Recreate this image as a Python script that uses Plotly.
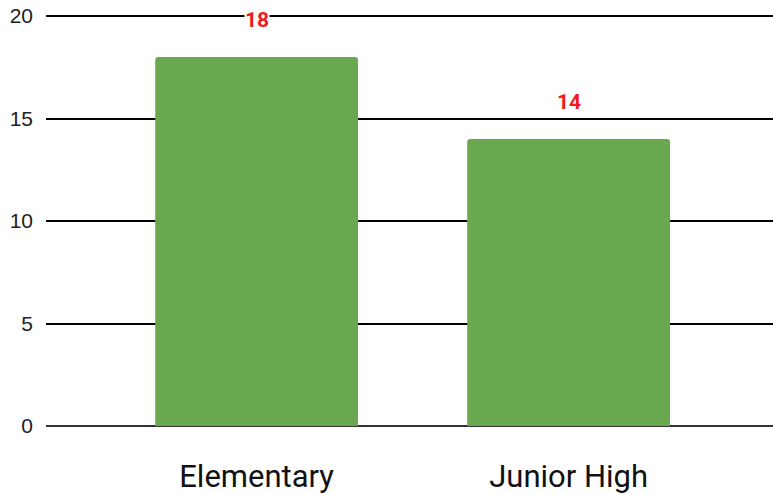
import plotly.graph_objects as go

# School levels and their counts
categories = ["Elementary", "Junior High"]
counts = [18, 14]
y_ticks = [0, 5, 10, 15, 20]

BAR_GREEN = "#6aa84f"
LABEL_RED = "#ee1c1c"

fig = go.Figure(
    go.Bar(
        x=categories,
        y=counts,
        marker=dict(color=BAR_GREEN, line=dict(width=0)),
        width=0.65,
        hoverinfo="skip",
    )
)

# Value labels above each bar, on a white box so the gridline breaks around them
for cat, val in zip(categories, counts):
    fig.add_annotation(
        x=cat,
        y=val,
        text=f"<b>{val}</b>",
        showarrow=False,
        yanchor="middle",
        yshift=37,
        font=dict(family="Roboto", size=21, color=LABEL_RED),
        bgcolor="white",
        borderpad=0,
    )

fig.update_layout(
    width=773,
    height=494,
    margin=dict(l=46, r=0, t=14, b=68),
    plot_bgcolor="white",
    paper_bgcolor="white",
    showlegend=False,
    barcornerradius=3,
    xaxis=dict(
        range=[-0.675, 1.655],
        showgrid=False,
        showline=False,
        zeroline=False,
        ticks="",
        tickfont=dict(family="Roboto", size=31, color="#111111"),
        ticklabelstandoff=29,
    ),
    yaxis=dict(
        range=[0, 20.1],
        tickvals=y_ticks,
        showgrid=True,
        gridcolor="#000000",
        gridwidth=2,
        zeroline=True,
        zerolinecolor="#333333",
        zerolinewidth=2,
        showline=False,
        ticks="",
        tickfont=dict(family="Liberation Sans", size=21, color="#222222"),
        ticklabelstandoff=12,
    ),
)

fig.write_html("out.html")
